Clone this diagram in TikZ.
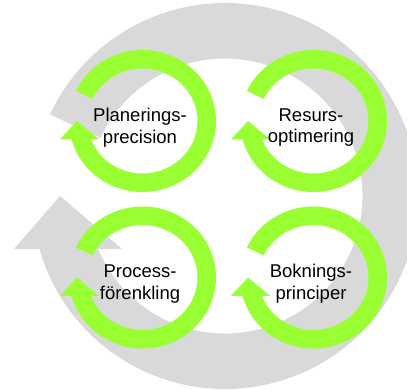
\documentclass[tikz,border=0pt]{standalone}
\usepackage{fontspec}
\setmainfont{Liberation Sans}
\definecolor{ringgray}{RGB}{217,217,217}
\definecolor{limegreen}{RGB}{153,255,51}
\tikzset{
  x=1pt, y=1pt,
  grayarrow/.style={fill=ringgray, draw=none},
  greenarrow/.style={fill=limegreen, draw=none},
  lbl/.style={inner sep=0pt, anchor=center, align=center, text=black,
              font=\fontsize{18.5}{21.6}\selectfont},
  cyc/.pic={
    \fill[greenarrow] (155:73.5 and 71)
      arc[start angle=155, end angle=-165.06, x radius=73.5, y radius=71]
      -- (-82.5,-18.3) -- (-65.5,0) -- (-43.5,-18.3)
      -- (-159.6:55 and 52.5)
      arc[start angle=-159.6, end angle=155, x radius=55, y radius=52.5]
      -- cycle;
  }
}
\begin{document}
\begin{tikzpicture}
\useasboundingbox (0,0) rectangle (407,389);
\clip (0,0) rectangle (407,389);
% big gray circular arrow
\begin{scope}[shift={(225,193)}]
  \fill[grayarrow] (155:193)
    arc[start angle=155, end angle=-164.06, radius=193]
    -- (-211,-53) -- (-165,0) -- (-103,-53)
    -- (-157.33:137.5)
    arc[start angle=-157.33, end angle=155, radius=137.5]
    -- cycle;
\end{scope}
% four green cycles
\pic at (142.5,268) {cyc};
\pic at (313.5,268) {cyc};
\pic at (142.5,111.5) {cyc};
\pic at (313.5,111.5) {cyc};
% labels
\node[lbl] (planering) at (140,261.5) {Planerings-\\precision};
\node[lbl] (resurs) at (311,261.5) {Resurs-\\optimering};
\node[lbl] (process) at (140,105) {Process-\\förenkling};
\node[lbl] (bokning) at (311,105) {Boknings-\\principer};
\end{tikzpicture}
\end{document}
